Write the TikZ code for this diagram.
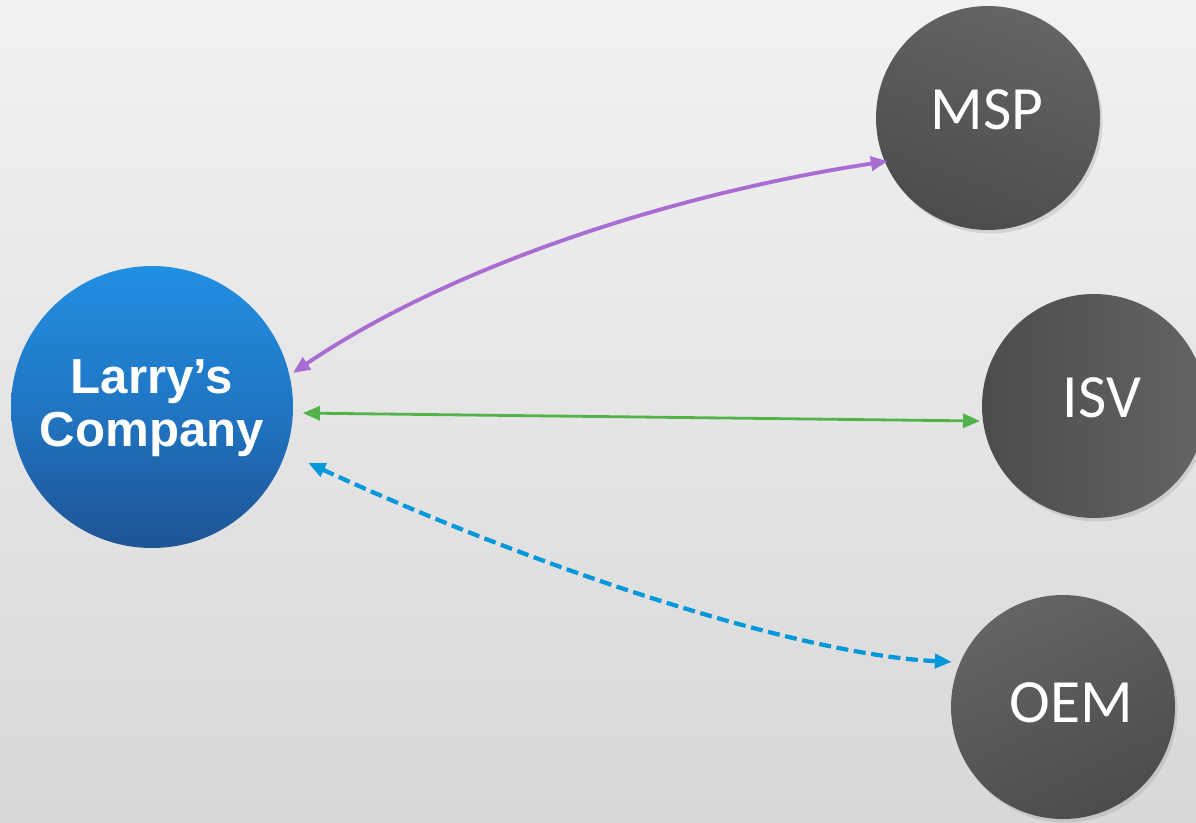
\documentclass[tikz,border=0pt]{standalone}
\usepackage{fontspec}
\newfontfamily\carlito{Carlito}
\newfontfamily\arialfont{Liberation Sans}
\usetikzlibrary{arrows.meta,calc,shadows}
\definecolor{bgtop}{RGB}{242,242,242}
\definecolor{bgbot}{RGB}{216,216,216}
\definecolor{hubtop}{RGB}{33,143,226}
\definecolor{hubmid}{RGB}{32,118,196}
\definecolor{hubbot}{RGB}{30,84,148}
\definecolor{peerlight}{RGB}{100,100,100}
\definecolor{peerdark}{RGB}{76,76,76}
\definecolor{purplelink}{RGB}{168,108,210}
\definecolor{greenlink}{RGB}{82,180,72}
\definecolor{bluelink}{RGB}{0,152,218}
\tikzset{
  hub/.style={circle, minimum size=2.82cm, inner sep=0pt, outer sep=0pt,
    top color=hubtop, bottom color=hubbot, middle color=hubmid},
  peer/.style={circle, minimum size=2.24cm, inner sep=0pt, outer sep=0pt,
    drop shadow={opacity=0.22, shadow xshift=0.025cm, shadow yshift=-0.035cm}},
  peertxt/.style={inner sep=0pt, text=white, font=\carlito\fontsize{17.5}{20}\selectfont},
  hubtxt/.style={inner sep=0pt, text=white, align=center,
    font=\arialfont\bfseries\fontsize{14}{15.1}\selectfont},
  link/.style={line width=1.1pt,
    {Triangle[length=1.7mm,width=1.4mm]}-{Triangle[length=1.7mm,width=1.4mm]}}
}
\begin{document}
\begin{tikzpicture}
\useasboundingbox (0,0) rectangle (11.96,8.22);
\clip (0,0) rectangle (11.96,8.22);
\shade[top color=bgtop, bottom color=bgbot] (0,0) rectangle (11.96,8.22);

% nodes
\node[hub] (lc) at (1.52,4.15) {};
\node[peer, top color=peerlight, bottom color=peerdark, shading angle=-20] (msp) at (9.88,7.04) {};
\node[peer, left color=peerdark, right color=peerlight] (isv) at (10.94,4.16) {};
\node[peer, top color=peerlight, bottom color=peerdark, shading angle=25] (oem) at (10.63,1.15) {};

% labels
\node[hubtxt] (lctxt) at ($(lc)+(0,-0.01)$) {Larry’s\\Company};
\node[peertxt] (msptxt) at ($(msp)+(-0.01,0.08)$) {MSP};
\node[peertxt] (isvtxt) at ($(isv)+(0.08,0.08)$) {ISV};
\node[peertxt] (oemtxt) at ($(oem)+(0.08,0.04)$) {OEM};

% connectors
\draw[link, purplelink] ($(lc)+(13.6:1.45)$) .. controls +(1.67,1.13) and +(-1.99,-0.30) .. ($(msp)+(203.3:1.09)$);
\draw[link, greenlink, line width=0.8pt] ($(lc)+(-2.3:1.51)$) -- ($(isv)+(187.5:1.15)$);
\draw[link, bluelink, line width=1.2pt, dash pattern=on 3.4pt off 1.6pt] ($(lc)+(-19.7:1.66)$) .. controls +(2.32,-1.07) and +(-1.52,0.07) .. ($(oem)+(157.9:1.20)$);
\end{tikzpicture}
\end{document}
